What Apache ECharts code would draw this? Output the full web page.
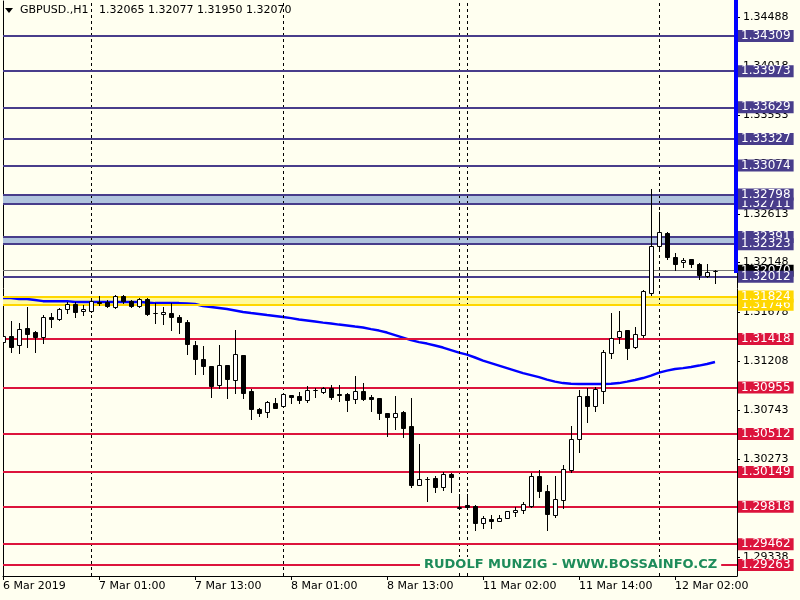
<!DOCTYPE html>
<html><head><meta charset="utf-8">
<script src="https://cdn.jsdelivr.net/npm/echarts@6/dist/echarts.min.js"></script>
<style>html,body{margin:0;padding:0;background:#FFFFF0}#c{width:800px;height:600px}</style>
</head><body><div id="c"></div>
<script>
const symbolName = 'GBPUSD.,H1';
const watermark = 'RUDOLF MUNZIG - WWW.BOSSAINFO.CZ';
const timeLabels = ['6 Mar 2019','7 Mar 01:00','7 Mar 13:00','8 Mar 01:00','8 Mar 13:00','11 Mar 02:00','11 Mar 14:00','12 Mar 02:00'];
const timeLabelBars = [0,12,24,36,48,60,72,84];
const separatorBars = [11,35,57,58,82];

const opens = [1.31389,1.31447,1.31360,1.31523,1.31485,1.31437,1.31628,1.31609,1.31704,1.31752,
1.31685,1.31685,1.31771,1.31771,1.31723,1.31828,1.31780,1.31733,1.31800,1.31666,
1.31657,1.31666,1.31628,1.31580,1.31360,1.31227,1.31161,1.30979,1.31170,1.31027,
1.31265,1.30922,1.30750,1.30722,1.30807,1.30779,1.30883,1.30874,1.30836,1.30931,
1.30912,1.30950,1.30893,1.30893,1.30845,1.30922,1.30864,1.30855,1.30712,1.30674,
1.30722,1.30588,1.30025,1.30082,1.30092,1.30006,1.30130,1.29806,1.29834,1.29825,
1.29662,1.29700,1.29681,1.29711,1.29768,1.29787,1.29825,1.30111,1.29968,1.29739,
1.29882,1.30168,1.30464,1.30874,1.30779,1.30922,1.31284,1.31437,1.31504,1.31341,
1.31456,1.31857,1.32305,1.32429,1.32200,1.32153,1.32181,1.32134,1.32019,1.32065];
const highs = [1.31485,1.31589,1.31570,1.31723,1.31494,1.31647,1.31666,1.31714,1.31771,1.31771,
1.31742,1.31809,1.31828,1.31790,1.31838,1.31838,1.31790,1.31809,1.31809,1.31761,
1.31723,1.31761,1.31647,1.31599,1.31398,1.31351,1.31161,1.31360,1.31170,1.31504,
1.31265,1.30941,1.30760,1.30826,1.30855,1.30902,1.30883,1.30912,1.30970,1.30950,
1.30960,1.30979,1.30979,1.30902,1.31065,1.30998,1.30883,1.30855,1.30712,1.30874,
1.30731,1.30855,1.30416,1.30101,1.30111,1.30149,1.30140,1.29939,1.29939,1.29834,
1.29730,1.29739,1.29739,1.29780,1.29815,1.29863,1.30140,1.30168,1.30025,1.30111,
1.30216,1.30588,1.30931,1.30950,1.30960,1.31313,1.31666,1.31685,1.31504,1.31532,
1.31885,1.32849,1.32630,1.32439,1.32238,1.32191,1.32181,1.32143,1.32134,1.32077];
const lows = [1.31265,1.31294,1.31284,1.31341,1.31294,1.31379,1.31532,1.31599,1.31666,1.31628,
1.31647,1.31676,1.31742,1.31723,1.31714,1.31761,1.31723,1.31723,1.31647,1.31570,
1.31561,1.31504,1.31475,1.31275,1.31084,1.31084,1.30864,1.30950,1.30855,1.30902,
1.30855,1.30655,1.30684,1.30674,1.30760,1.30769,1.30807,1.30807,1.30817,1.30864,
1.30902,1.30845,1.30826,1.30731,1.30807,1.30836,1.30731,1.30655,1.30493,1.30559,
1.30483,1.30006,1.30025,1.29872,1.29958,1.29977,1.29958,1.29796,1.29810,1.29596,
1.29615,1.29615,1.29678,1.29708,1.29730,1.29758,1.29815,1.29910,1.29596,1.29720,
1.29806,1.30149,1.30340,1.30626,1.30731,1.30807,1.31237,1.31379,1.31227,1.31332,
1.31437,1.31838,1.32267,1.32181,1.32076,1.32105,1.32105,1.31990,1.32009,1.31950];
const closes = [1.31447,1.31341,1.31513,1.31466,1.31437,1.31628,1.31609,1.31704,1.31752,1.31676,
1.31704,1.31780,1.31761,1.31733,1.31828,1.31780,1.31733,1.31800,1.31657,1.31666,
1.31676,1.31628,1.31580,1.31370,1.31227,1.31161,1.30970,1.31170,1.31036,1.31275,
1.30902,1.30750,1.30712,1.30817,1.30760,1.30893,1.30864,1.30836,1.30931,1.30929,
1.30950,1.30864,1.30883,1.30836,1.30922,1.30845,1.30845,1.30712,1.30674,1.30712,
1.30569,1.30025,1.30082,1.30080,1.30006,1.30130,1.30101,1.29815,1.29815,1.29662,
1.29711,1.29681,1.29711,1.29777,1.29787,1.29844,1.30111,1.29968,1.29749,1.29891,
1.30178,1.30464,1.30874,1.30779,1.30941,1.31294,1.31427,1.31494,1.31332,1.31466,
1.31876,1.32305,1.32439,1.32200,1.32134,1.32172,1.32134,1.32028,1.32057,1.32070];
const maValues = [1.31809,1.31809,1.31800,1.31800,1.31790,1.31780,1.31780,1.31780,1.31780,1.31771,
1.31771,1.31771,1.31771,1.31771,1.31771,1.31771,1.31771,1.31771,1.31766,1.31761,
1.31761,1.31761,1.31761,1.31757,1.31752,1.31733,1.31723,1.31714,1.31704,1.31690,
1.31676,1.31666,1.31657,1.31647,1.31638,1.31628,1.31618,1.31604,1.31595,1.31585,
1.31575,1.31566,1.31556,1.31547,1.31537,1.31528,1.31513,1.31499,1.31480,1.31456,
1.31432,1.31408,1.31389,1.31375,1.31356,1.31337,1.31313,1.31289,1.31270,1.31242,
1.31213,1.31189,1.31165,1.31141,1.31117,1.31093,1.31074,1.31055,1.31031,1.31012,
1.30998,1.30993,1.30989,1.30989,1.30989,1.30989,1.30993,1.30998,1.31012,1.31027,
1.31046,1.31069,1.31098,1.31117,1.31132,1.31141,1.31151,1.31165,1.31180,1.31199];

const priceTickLabels = ['1.34488','1.34018','1.33553','1.33083','1.32613','1.32148','1.31678','1.31208','1.30743','1.30273','1.29803','1.29338'];
const blueLevels = [1.34309,1.33973,1.33629,1.33327,1.33074,1.32711,1.32798,1.32391,1.32323,1.32012];
const goldLevels = [1.31746,1.31824];
const redLevels = [1.31418,1.30955,1.30512,1.30149,1.29818,1.29462,1.29263];
const blueZones = [[1.32798,1.32711],[1.32391,1.32323]];
const goldZones = [[1.31824,1.31746]];
const bidPrice = 1.32070;

const X_MAX = 91.75, Y_MIN = 1.29158, Y_MAX = 1.34643;
const FONT = 'DejaVu Sans';
const BG = '#FFFFF0';

const n = opens.length;
const candleData = [], maData = [];
for (let i = 0; i < n; i++) {
  candleData.push([i, opens[i], highs[i], lows[i], closes[i]]);
  maData.push([i, maValues[i]]);
}
const last = n - 1;
const header = symbolName + '   ' + [opens[last], highs[last], lows[last], closes[last]].map(v => v.toFixed(5)).join(' ');

function levelItems(levels, lineColor, boxColor) {
  return levels.map(v => ({
    yAxis: v,
    lineStyle: { color: lineColor, width: 2, type: 'solid' },
    label: { show: true, position: 'end', distance: 1, formatter: v.toFixed(5), color: '#fff',
      backgroundColor: boxColor, padding: [0, 3], fontSize: 12, lineHeight: 12, fontFamily: FONT }
  }));
}

const chart = echarts.init(document.getElementById('c'), null, { renderer: 'canvas' });
chart.setOption({
  animation: false,
  backgroundColor: BG,
  grid: { left: 3, right: 63, top: 1, bottom: 24, show: false, outerBoundsMode: 'none' },
  xAxis: {
    type: 'value', min: 0, max: X_MAX, interval: 12,
    axisLine: { show: true, onZero: false, lineStyle: { color: '#000', width: 1 } },
    axisTick: { show: true, length: 4, customValues: timeLabelBars, lineStyle: { color: '#000' } },
    axisLabel: { show: true, customValues: timeLabelBars, align: 'left', margin: 5, color: '#000', fontSize: 11, fontFamily: FONT,
      showMinLabel: true, showMaxLabel: true, hideOverlap: false,
      formatter: v => { const i = timeLabelBars.indexOf(v); return i >= 0 ? timeLabels[i] : ''; } },
    splitLine: { show: false }
  },
  yAxis: [{
    type: 'value', position: 'right', min: Y_MIN, max: Y_MAX,
    axisLine: { show: true, onZero: false, lineStyle: { color: '#000', width: 1 } },
    axisTick: { show: true, length: 3, customValues: priceTickLabels.map(Number), lineStyle: { color: '#000' } },
    axisLabel: { show: true, customValues: priceTickLabels.map(Number), margin: 6, color: '#000', fontSize: 11, fontFamily: FONT,
      showMinLabel: true, showMaxLabel: true, hideOverlap: false,
      formatter: v => { const s = v.toFixed(5); return priceTickLabels.indexOf(s) >= 0 ? s : ''; } },
    splitLine: { show: false }
  }, {
    type: 'value', position: 'left', min: Y_MIN, max: Y_MAX,
    axisLine: { show: true, onZero: false, lineStyle: { color: '#000', width: 1 } },
    axisTick: { show: false }, axisLabel: { show: false }, splitLine: { show: false }
  }],
  series: [
    { // zones
      type: 'line', data: [], z: 1, silent: true,
      markArea: { silent: true, data: [
        ...blueZones.map(z => [{ yAxis: z[0], itemStyle: { color: '#B0C4DE' } }, { yAxis: z[1] }]),
        ...goldZones.map(z => [{ yAxis: z[0], itemStyle: { color: '#FFFA9E' } }, { yAxis: z[1] }])
      ] }
    },
    { // day separators
      type: 'line', data: [], z: 2, silent: true,
      markLine: { silent: true, symbol: ['none', 'none'], label: { show: false },
        lineStyle: { color: '#000', width: 1, type: [3, 3] },
        data: separatorBars.map(b => ({ xAxis: b })) }
    },
    { // bid line
      type: 'line', data: [], z: 2, silent: true,
      markLine: { silent: true, symbol: ['none', 'none'], precision: 5,
        data: [{ yAxis: bidPrice, lineStyle: { color: '#777', width: 1, type: 'solid' },
          label: { show: true, position: 'end', distance: 1, formatter: bidPrice.toFixed(5), color: '#fff',
            backgroundColor: '#000', padding: [0, 3], fontSize: 12, lineHeight: 12, fontFamily: FONT } }] }
    },
    { // levels
      type: 'line', data: [], z: 3, silent: true,
      markLine: { silent: true, symbol: ['none', 'none'], precision: 5,
        data: [
          ...levelItems(blueLevels, '#483D8B', '#483D8B'),
          ...levelItems(goldLevels, '#FFD700', '#FFD700'),
          ...levelItems(redLevels, '#DC143C', '#DC143C')
        ] }
    },
    { // moving average
      type: 'line', data: maData, z: 4, showSymbol: false, silent: true,
      lineStyle: { color: '#0000FF', width: 2.5 }
    },
    { // candles
      type: 'custom', z: 5, clip: true, silent: true,
      encode: { x: 0, y: [1, 2, 3, 4] },
      data: candleData,
      renderItem: function (params, api) {
        const k = api.value(0), o = api.value(1), h = api.value(2), l = api.value(3), c = api.value(4);
        const pO = api.coord([k, o]), pC = api.coord([k, c]), pH = api.coord([k, h]), pL = api.coord([k, l]);
        const cx = Math.floor(pO[0] + 0.01) + 0.5;
        const yTop = Math.round(Math.min(pO[1], pC[1])) + 0.5;
        const yBot = Math.round(Math.max(pO[1], pC[1])) + 0.5;
        const bull = c >= o;
        return { type: 'group', children: [
          { type: 'line', shape: { x1: cx, y1: Math.round(pH[1]), x2: cx, y2: Math.round(pL[1]) + 1 },
            style: { stroke: '#000', lineWidth: 1 } },
          { type: 'rect', shape: { x: cx - 2, y: yTop, width: 4, height: Math.max(yBot - yTop, 0) },
            style: { fill: bull ? '#FFFFFF' : '#000000', stroke: '#000', lineWidth: 1 } }
        ] };
      }
    },
    { // blue bar at the right edge
      type: 'line', z: 6, clip: false, showSymbol: false, silent: true,
      data: [[X_MAX - 0.125, 1.32048], [X_MAX - 0.125, Y_MAX + 0.0001]],
      lineStyle: { color: '#0000FF', width: 4 }
    }
  ],
  graphic: [
    { type: 'polygon', z: 100, shape: { points: [[5, 8], [13, 8], [9, 13]] }, style: { fill: '#000' } },
    { type: 'text', z: 100, left: 20, top: 5, style: { text: header, font: '11px "DejaVu Sans"', fill: '#000' } },
    { type: 'text', z: 100, left: 420, top: 557, style: { text: watermark, font: 'bold 13px "DejaVu Sans"', fill: '#1E8C5A',
        backgroundColor: BG, padding: [1, 4] } }
  ]
});
</script>
</body></html>
